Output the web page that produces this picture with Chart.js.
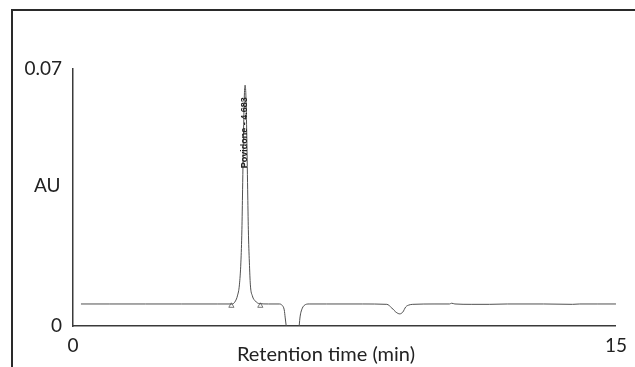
<!DOCTYPE html>
<html>
<head>
<meta charset="utf-8">
<script src="https://cdn.jsdelivr.net/npm/chart.js@4"></script>
<style>
  html, body { margin: 0; padding: 0; background: #fff; }
  #wrap { position: relative; width: 635px; height: 367px; overflow: hidden; }
  #frame { position: absolute; left: 11px; top: 9px; right: -5px; bottom: -5px;
           border-left: 2px solid #2a2a2a; border-top: 2px solid #2a2a2a; }
  canvas { position: absolute; left: 0; top: 0; }
</style>
</head>
<body>
<div id="wrap">
  <div id="frame"></div>
  <canvas id="chrom" width="635" height="367"></canvas>
</div>
<script>
// retention time (min) and absorbance (AU)
const times = [0.22, 1.0, 2.0, 3.0, 4.0, 4.404, 4.487, 4.542, 4.597, 4.638, 4.666, 4.685, 4.712, 4.734, 4.754,
  4.776, 4.798, 4.825, 4.844, 4.872, 4.900, 4.955, 5.037, 5.147, 5.40, 5.698, 5.780, 5.835, 5.863, 5.890,
  5.945, 6.083, 6.220, 6.248, 6.276, 6.317, 6.386, 6.524, 7.0, 8.0, 8.670, 8.808, 8.918, 9.028, 9.111,
  9.193, 9.276, 9.386, 10.0, 10.40, 10.46, 10.55, 11.0, 11.5, 12.0, 13.0, 13.8, 14.0, 14.5, 15.0];
const absorbance = [0.0060, 0.0060, 0.0060, 0.0060, 0.0060, 0.0060, 0.0068, 0.0082, 0.0112, 0.0174, 0.0262, 0.0371, 0.0534, 0.0629, 0.0656,
  0.0629, 0.0534, 0.0371, 0.0262, 0.0174, 0.0112, 0.0082, 0.0068, 0.0061, 0.0060, 0.0060, 0.0056, 0.0044, 0.0022, 0.0,
  -0.004, -0.008, -0.004, 0.0, 0.0027, 0.0044, 0.0056, 0.0060, 0.0060, 0.0060, 0.0059, 0.0049, 0.0038, 0.0033, 0.0038,
  0.0052, 0.0057, 0.0059, 0.0060, 0.0060, 0.0062, 0.0060, 0.0059, 0.0059, 0.0060, 0.0060, 0.0059, 0.0060, 0.0060, 0.0060];
// integration baseline markers
const markerTimes = [4.376, 5.175];
const markerValues = [0.0055, 0.0055];
const xTickValues = [0, 15];
const xTickLabels = ['0', '15'];
const yTickValues = [0, 0.07];
const yTickLabels = ['0', '0.07'];
const peakTime = 4.754;
const peakValue = 0.0656;
const peakLabel = 'Povidone - 4.683';

const FONT = 'Lato, "Open Sans", sans-serif';

const annotate = {
  id: 'annotate',
  afterDraw(chart) {
    const { ctx, scales: { x, y } } = chart;
    ctx.save();
    ctx.fillStyle = '#222';
    ctx.font = '19px ' + FONT;
    ctx.textAlign = 'left';
    ctx.textBaseline = 'middle';
    ctx.fillText('AU', 34, 186);
    ctx.font = '20px ' + FONT;
    ctx.textAlign = 'center';
    ctx.fillText('Retention time (min)', 326, 355);
    // peak label, rotated along the peak
    ctx.font = 'bold 9px "Liberation Sans", sans-serif';
    const w = ctx.measureText(peakLabel).width;
    ctx.translate(x.getPixelForValue(peakTime) - 1, y.getPixelForValue(peakValue) + 12 + w / 2);
    ctx.rotate(-Math.PI / 2);
    ctx.textBaseline = 'middle';
    ctx.fillText(peakLabel, 0, 0);
    ctx.restore();
  }
};

new Chart(document.getElementById('chrom'), {
  type: 'line',
  data: {
    datasets: [{
      data: times.map((t, i) => ({ x: t, y: absorbance[i] })),
      borderColor: '#505050',
      borderWidth: 1,
      pointRadius: 0,
      cubicInterpolationMode: 'monotone',
      fill: false
    }, {
      data: markerTimes.map((t, i) => ({ x: t, y: markerValues[i] })),
      showLine: false,
      pointStyle: 'triangle',
      pointRadius: 3,
      pointBorderWidth: 1,
      pointBorderColor: '#777',
      pointBackgroundColor: '#fff'
    }]
  },
  options: {
    responsive: false,
    animation: false,
    layout: { padding: { left: 0, right: 17, top: 69, bottom: 0 } },
    plugins: { legend: { display: false }, tooltip: { enabled: false } },
    scales: {
      x: {
        type: 'linear',
        min: 0,
        max: 15,
        afterFit(scale) { scale.height = 41; },
        afterBuildTicks(scale) { scale.ticks = xTickValues.map(v => ({ value: v })); },
        grid: { display: false, drawTicks: false },
        border: { display: true, color: '#3a3a3a', width: 1.5 },
        ticks: {
          padding: 8,
          color: '#222',
          font: { family: FONT, size: 19 },
          maxRotation: 0,
          callback: (v, i) => xTickLabels[i]
        }
      },
      y: {
        min: 0,
        max: 0.07,
        afterFit(scale) { scale.width = 73; },
        afterBuildTicks(scale) { scale.ticks = yTickValues.map(v => ({ value: v })); },
        grid: { display: false, drawTicks: false },
        border: { display: true, color: '#3a3a3a', width: 1.5 },
        ticks: {
          padding: 11,
          color: '#222',
          font: { family: FONT, size: 19 },
          callback: (v, i) => yTickLabels[i]
        }
      }
    }
  },
  plugins: [annotate]
});
</script>
</body>
</html>
